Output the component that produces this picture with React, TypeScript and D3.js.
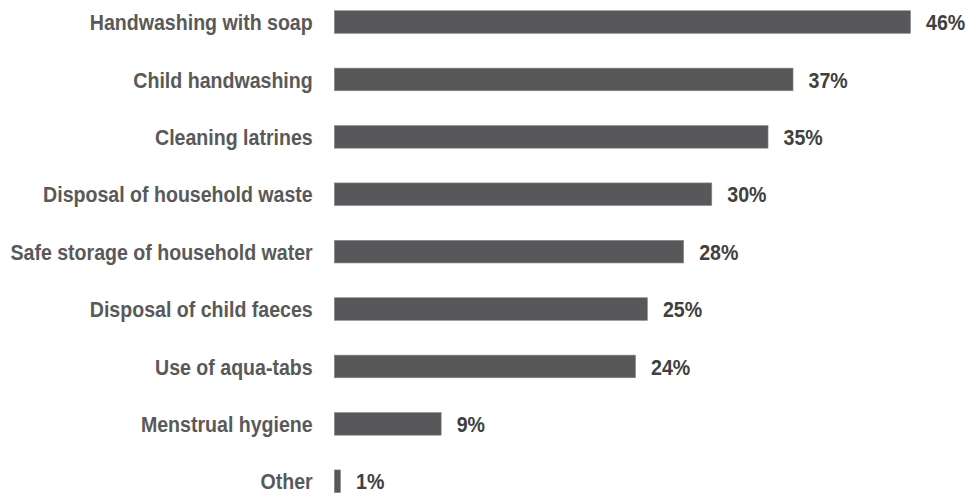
import React from "react";
import * as d3 from "d3";

const categories = [
  "Handwashing with soap",
  "Child handwashing",
  "Cleaning latrines",
  "Disposal of household waste",
  "Safe storage of household water",
  "Disposal of child faeces",
  "Use of aqua-tabs",
  "Menstrual hygiene",
  "Other",
];
const values = [46.1, 36.7, 34.7, 30.2, 27.95, 25.05, 24.1, 8.55, 0.5];
const valueLabels = ["46%", "37%", "35%", "30%", "28%", "25%", "24%", "9%", "1%"];

const W = 966;
const H = 496;
const FONT = "'Liberation Sans', Arial, sans-serif";
const FS = 22.5;
const SX = 0.87;

export default function App() {
  const x = d3.scaleLinear().domain([0, 50]).range([334.3, 334.3 + 625]);
  const y = d3
    .scaleBand<string>()
    .domain(categories)
    .range([10.7, 492.6])
    .paddingInner(0.605)
    .paddingOuter(0);
  const bw = y.bandwidth();

  return (
    <svg
      width={W}
      height={H}
      style={{ position: "absolute", left: 0, top: 0, display: "block", background: "#fff" }}
    >
      {categories.map((c, i) => {
        const yt = y(c) as number;
        const cy = yt + bw / 2;
        const x0 = x(0);
        const x1 = x(values[i]);
        return (
          <g key={c}>
            <rect
              x={x0}
              y={yt}
              width={x1 - x0}
              height={bw}
              fill="#58585a"
              stroke="#8c8c8c"
              strokeWidth={0.6}
            />
            <g transform={`translate(${312.7},${cy}) scale(${SX},1)`}>
              <text
                x={0}
                y={0}
                dy="0.36em"
                textAnchor="end"
                fontFamily={FONT}
                fontWeight="bold"
                fontSize={FS}
                fill="#595959"
              >
                {c}
              </text>
            </g>
            <g transform={`translate(${x1 + 15.5},${cy}) scale(${SX},1)`}>
              <text
                x={0}
                y={0}
                dy="0.36em"
                textAnchor="start"
                fontFamily={FONT}
                fontWeight="bold"
                fontSize={FS}
                fill="#404040"
              >
                {valueLabels[i]}
              </text>
            </g>
          </g>
        );
      })}
    </svg>
  );
}
